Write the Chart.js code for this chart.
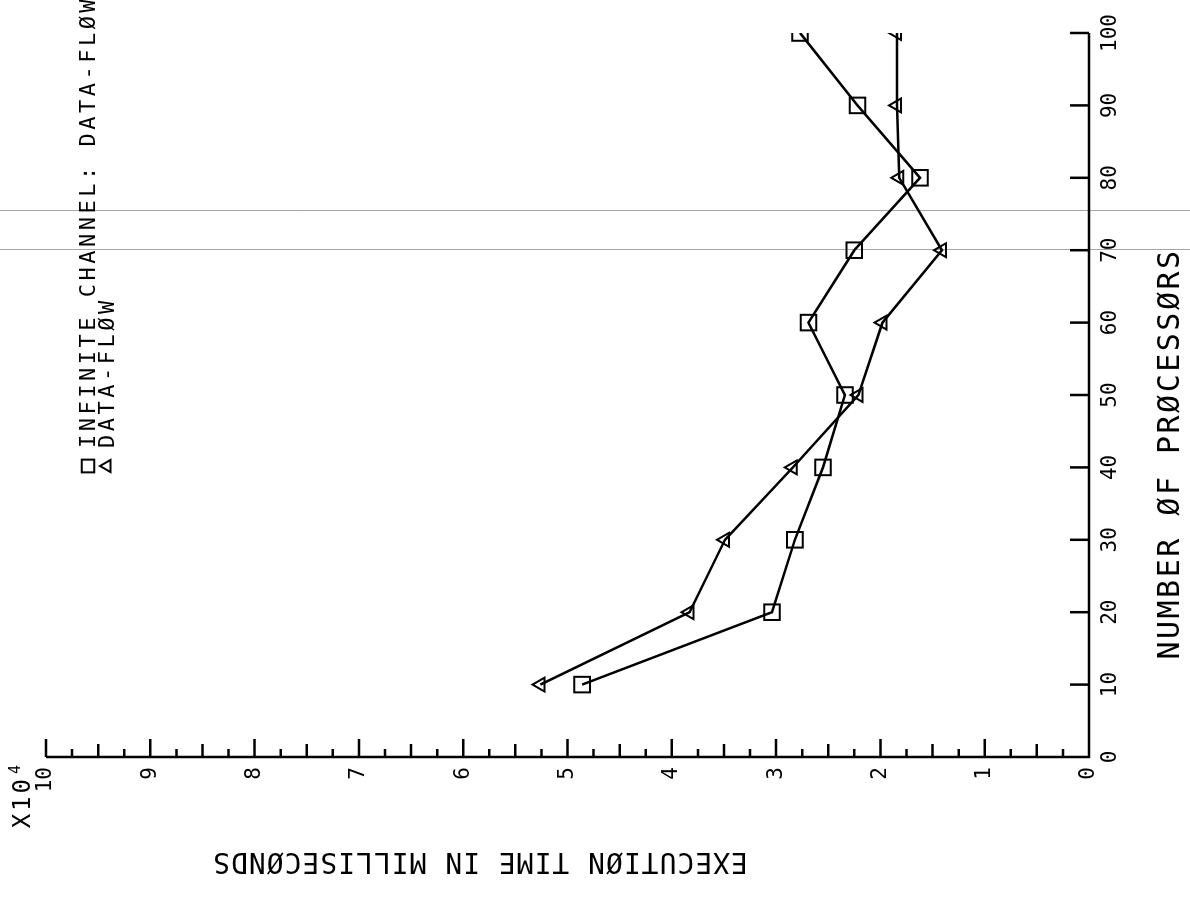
<!DOCTYPE html>
<html>
<head>
<meta charset="utf-8">
<title>Execution time vs number of processors</title>
<script src="https://cdn.jsdelivr.net/npm/chart.js@4.4.0/dist/chart.umd.min.js"></script>
<style>
  html, body { margin: 0; padding: 0; background: #fff; overflow: hidden; }
  /* the plot is laid out upright, then turned a quarter turn */
  #wrap {
    position: absolute; left: 0; top: 0;
    width: 919px; height: 1190px;
    transform-origin: 0 0;
    transform: translateY(919px) rotate(-90deg);
  }
</style>
</head>
<body>
<div id="wrap"><canvas id="chart" width="919" height="1190"></canvas></div>
<script>
// Processor counts and execution times (x10^4 ms)
const processors = [10, 20, 30, 40, 50, 60, 70, 80, 90, 100];
const infiniteChannel = [4.86, 3.04, 2.82, 2.55, 2.34, 2.69, 2.25, 1.62, 2.22, 2.77];
const dataFlow = [5.26, 3.83, 3.49, 2.84, 2.21, 1.98, 1.41, 1.82, 1.84, 1.84];

const processorTicks = [0, 10, 20, 30, 40, 50, 60, 70, 80, 90, 100];
const timeTicks = [0, 1, 2, 3, 4, 5, 6, 7, 8, 9, 10];

const FONT = "'DejaVu Sans Mono', monospace";

function toPoints(values) {
    return processors.map((p, i) => ({ x: p, y: values[i] }));
}

// Axis lines with inward tick marks (quarter steps on the time axis)
const axisFrame = {
    id: 'axisFrame',
    afterDraw(chart) {
        const { ctx, chartArea: a, scales: { x, y } } = chart;
        ctx.save();
        ctx.strokeStyle = '#000';
        ctx.lineWidth = 2.5;
        ctx.beginPath();
        ctx.moveTo(a.left, a.top);
        ctx.lineTo(a.left, a.bottom);
        ctx.lineTo(a.right, a.bottom);
        for (let i = 0; i <= 40; i++) {
            const py = y.getPixelForValue(i / 4);
            const len = i % 4 === 0 ? 18 : (i % 2 === 0 ? 13 : 8);
            ctx.moveTo(a.left, py);
            ctx.lineTo(a.left + len, py);
        }
        processorTicks.forEach(v => {
            const px = x.getPixelForValue(v);
            ctx.moveTo(px, a.bottom);
            ctx.lineTo(px, a.bottom - 19);
        });
        ctx.stroke();
        ctx.restore();
    }
};

// Faint rules running the full height at two processor positions
const faintRules = {
    id: 'faintRules',
    beforeDatasetsDraw(chart) {
        const { ctx, scales: { x } } = chart;
        ctx.save();
        ctx.strokeStyle = 'rgba(0,0,0,0.35)';
        ctx.lineWidth = 1;
        [70, 75.4].forEach(v => {
            const px = Math.round(x.getPixelForValue(v)) + 0.5;
            ctx.beginPath();
            ctx.moveTo(px, 0);
            ctx.lineTo(px, chart.height);
            ctx.stroke();
        });
        ctx.restore();
    }
};

// Axis titles, scale multiplier and the key
const annotations = {
    id: 'annotations',
    afterDraw(chart) {
        const { ctx } = chart;
        ctx.save();
        ctx.fillStyle = '#000';
        ctx.textBaseline = 'middle';

        // x title
        ctx.font = '30px ' + FONT;
        ctx.letterSpacing = '2.5px';
        ctx.textAlign = 'center';
        ctx.fillText('NUMBER ØF PRØCESSØRS', 465, 1171);

        // y title, reading upward
        ctx.save();
        ctx.translate(59, 480);
        ctx.rotate(-Math.PI / 2);
        ctx.font = '28px ' + FONT;
        ctx.letterSpacing = '1px';
        ctx.fillText('EXECUTIØN TIME IN MILLISECØNDS', 0, 0);
        ctx.restore();

        // multiplier above the time axis
        ctx.letterSpacing = '3px';
        ctx.textAlign = 'right';
        ctx.font = '24px ' + FONT;
        ctx.fillText('X10', 143, 24);
        ctx.textAlign = 'left';
        ctx.font = '15px ' + FONT;
        ctx.fillText('4', 145, 16);

        // key
        ctx.font = '22px ' + FONT;
        ctx.letterSpacing = '3.5px';
        ctx.textAlign = 'left';
        const keys = [
            { style: 'rect', r: 9, text: 'INFINITE CHANNEL: DATA-FLØW', v: 88 },
            { style: 'triangle', r: 7, text: 'DATA-FLØW', v: 107 }
        ];
        keys.forEach(k => {
            ctx.fillStyle = 'rgba(0,0,0,0)';
            ctx.strokeStyle = '#000';
            ctx.lineWidth = 2;
            Chart.helpers.drawPoint(ctx, { pointStyle: k.style, radius: k.r, borderWidth: 2, rotation: 0 }, 453, k.v);
            ctx.fillStyle = '#000';
            ctx.fillText(k.text, 471, k.v + 1);
        });
        ctx.restore();
    }
};

const tickFont = { family: FONT, size: 21 };

new Chart(document.getElementById('chart'), {
    type: 'line',
    data: {
        datasets: [
            {
                label: 'INFINITE CHANNEL: DATA-FLØW',
                data: toPoints(infiniteChannel),
                borderColor: '#000',
                borderWidth: 2.5,
                pointStyle: 'rect',
                pointRadius: 11,
                pointBorderWidth: 2,
                pointBorderColor: '#000',
                pointBackgroundColor: 'rgba(0,0,0,0)',
                tension: 0
            },
            {
                label: 'DATA-FLØW',
                data: toPoints(dataFlow),
                borderColor: '#000',
                borderWidth: 2.5,
                pointStyle: 'triangle',
                pointRadius: 8,
                pointBorderWidth: 2,
                pointBorderColor: '#000',
                pointBackgroundColor: 'rgba(0,0,0,0)',
                tension: 0
            }
        ]
    },
    options: {
        responsive: false,
        animation: false,
        layout: { padding: { top: 46, right: 33, left: 0, bottom: 0 } },
        plugins: {
            legend: { display: false },
            tooltip: { enabled: false }
        },
        scales: {
            x: {
                type: 'linear',
                min: 0,
                max: 100,
                afterBuildTicks: s => { s.ticks = processorTicks.map(v => ({ value: v })); },
                afterFit: s => { s.height = 101; },
                grid: { display: false, drawTicks: false },
                border: { display: false },
                ticks: { font: tickFont, color: '#000', padding: 9, maxRotation: 0, autoSkip: false }
            },
            y: {
                type: 'linear',
                min: 0,
                max: 10,
                afterBuildTicks: s => { s.ticks = timeTicks.map(v => ({ value: v })); },
                afterFit: s => { s.width = 162; },
                grid: { display: false, drawTicks: false },
                border: { display: false },
                ticks: { font: tickFont, color: '#000', padding: 10, autoSkip: false }
            }
        }
    },
    plugins: [faintRules, axisFrame, annotations]
});
</script>
</body>
</html>
